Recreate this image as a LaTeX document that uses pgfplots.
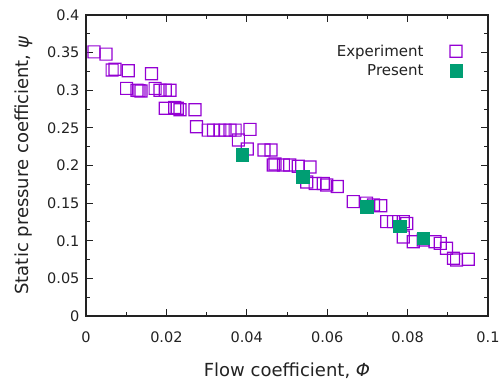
\documentclass[border=0pt]{standalone}
\usepackage{pgfplots}
\pgfplotsset{compat=1.18}
\usepackage{fontspec}
\setmainfont{DejaVu Sans}
\definecolor{expc}{HTML}{9400D3}
\definecolor{prec}{HTML}{009E73}
\definecolor{txt}{HTML}{222222}
\pgfdeclareplotmark{hsq}{%
  \pgfpathrectanglecorners{\pgfpoint{-6.6pt}{-6.6pt}}{\pgfpoint{6.6pt}{6.6pt}}%
  \pgfpathrectanglecorners{\pgfpoint{-5.4pt}{-5.4pt}}{\pgfpoint{5.4pt}{5.4pt}}%
  \pgfseteorule\pgfusepathqfill}
\begin{document}
\begin{tikzpicture}[x=1pt,y=1pt]
\path[use as bounding box] (-86,-67) rectangle (417,316);
\begin{axis}[
  at={(0,0)}, anchor=south west,
  scale only axis, width=402pt, height=301pt,
  xmin=0, xmax=0.1, ymin=0, ymax=0.4,
  xtick={0,0.02,...,0.1}, ytick={0,0.05,...,0.4},
  minor xtick={0.01,0.03,...,0.09},
  minor ytick={0.025,0.075,...,0.375},
  tick align=inside,
  major tick length=7pt, minor tick length=4pt,
  every tick/.style={line width=1pt, txt},
  axis line style={line width=1.1pt, txt},
  /pgf/number format/assume math mode=true,
  /pgf/number format/fixed,
  /pgf/number format/precision=3,
  scaled ticks=false,
  tick label style={font=\fontsize{14.5}{16}\selectfont, text=txt},
  xticklabel style={yshift=-12pt},
  yticklabel style={xshift=-3pt},
  label style={font=\fontsize{18}{21}\selectfont, text=txt},
  xlabel={Flow coefficient, \textit{Φ}},
  ylabel={Static pressure coefficient, \textit{ψ}},
  xlabel style={yshift=-13pt},
  ylabel style={yshift=8pt},
  legend style={draw=none, fill=none, at={(0.945,0.915)}, anchor=north east,
    font=\fontsize{15}{17}\selectfont, text=txt, row sep=3pt,
    /tikz/every odd column/.style={column sep=24pt}},
  legend plot pos=right,
  legend cell align=right,
]
\addplot[only marks, color=expc, mark=hsq, mark options={fill=expc, draw=none, solid}] coordinates {
(0.0020,0.351) (0.0050,0.348) (0.0065,0.327) (0.0072,0.328) (0.0105,0.326)
(0.0163,0.322) (0.0101,0.3025) (0.0127,0.300) (0.0132,0.2995) (0.0137,0.299)
(0.0172,0.3025) (0.0184,0.300) (0.0197,0.300) (0.0209,0.300) (0.0197,0.276)
(0.0221,0.277) (0.0227,0.276) (0.0234,0.274) (0.0271,0.274) (0.0275,0.2516)
(0.0304,0.247) (0.0317,0.247) (0.0333,0.247) (0.0346,0.247) (0.0358,0.247)
(0.0371,0.247) (0.0408,0.248) (0.0379,0.234) (0.0401,0.222) (0.0443,0.2206)
(0.0460,0.2206) (0.0470,0.202) (0.0466,0.2007) (0.0491,0.2007) (0.0507,0.2007)
(0.0528,0.199) (0.0557,0.198) (0.0549,0.178) (0.0570,0.176) (0.0590,0.176)
(0.0599,0.174) (0.0625,0.172) (0.0665,0.152) (0.0698,0.150) (0.0715,0.1475)
(0.0733,0.1466) (0.0748,0.1254) (0.0765,0.1254) (0.0789,0.1254) (0.0798,0.123)
(0.0789,0.105) (0.0814,0.0987) (0.0839,0.101) (0.0868,0.0987) (0.0881,0.0965)
(0.0897,0.090) (0.0914,0.0767) (0.0922,0.0744) (0.0951,0.0753)
};
\addlegendentry{Experiment}
\addplot[only marks, color=prec, mark=square*, mark size=6.3pt, mark options={fill=prec, draw=prec, solid}] coordinates {
(0.0389,0.214) (0.0539,0.185) (0.0698,0.1455) (0.0781,0.1196) (0.0839,0.1032)
};
\addlegendentry{Present}
\end{axis}
\end{tikzpicture}
\end{document}
